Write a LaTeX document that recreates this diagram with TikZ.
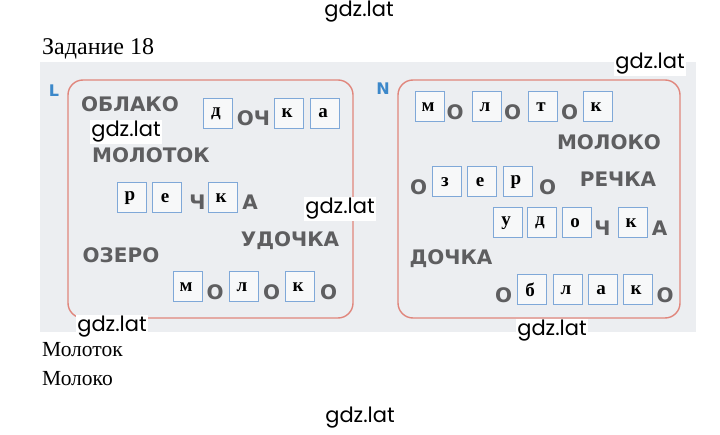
\documentclass[tikz,border=0pt]{standalone}
\usepackage{fontspec}
\setmainfont{Liberation Serif}
\newfontfamily\wordfont{DejaVu Sans}
\newfontfamily\wmfont{Poppins}
\definecolor{scanbg}{HTML}{ECEEF1}
\definecolor{framered}{HTML}{E0867C}
\definecolor{boxblue}{HTML}{7FA8D8}
\definecolor{wordgray}{HTML}{5E5E60}
\definecolor{tagblue}{HTML}{3C88CA}
\begin{document}
\begin{tikzpicture}[x=1pt,y=-1pt,
  letbox/.style={draw=boxblue,line width=1pt,fill=white!60!scanbg,minimum width=29pt,minimum height=30pt,inner sep=0pt,
    font=\bfseries\fontsize{19}{19}\selectfont},
  word/.style={anchor=base,text=wordgray,inner sep=0pt,font=\wordfont\bfseries\fontsize{20}{20}\selectfont},
  gdz/.style={fill=white,inner sep=1pt,font=\wmfont\fontsize{21}{21}\selectfont},
  frame/.style={draw=framered,line width=1.4pt,rounded corners=15pt}]
  \useasboundingbox (0,0) rectangle (720,435);

  % scanned page
  \fill[scanbg] (40,62) rectangle (696,332);
  \draw[frame] (68,80) rectangle (353,318);
  \draw[frame] (398,80) rectangle (680,318);
  \node[text=tagblue,font=\wordfont\bfseries\fontsize{16}{16}\selectfont] (tagL) at (54,91) {L};
  \node[text=tagblue,font=\wordfont\bfseries\fontsize{16}{16}\selectfont] (tagN) at (383,89) {N};

  % left panel
  \node[word] (oblako) at (130,112) {ОБЛАКО};
  \node[word] (molotok) at (151,163) {МОЛОТОК};
  \node[word] (udochka) at (290,247) {УДОЧКА};
  \node[word] (ozero) at (121,263) {ОЗЕРО};
  \foreach \x/\t in {218/д,289/к,325/а} \node[letbox] (la-\x) at (\x,113.5) {\hspace*{-4pt}\t};
  \node[word] (la-och) at (253.5,126) {ОЧ};
  \foreach \x/\t in {132/р,167/е,223/к} \node[letbox] (lb-\x) at (\x,198) {\hspace*{-4pt}\t};
  \foreach \x/\t in {197.5/Ч,250/А} \node[word] (lb-\x) at (\x,210) {\t};
  \foreach \x/\t in {188/м,244/л,300/к} \node[letbox] (lc-\x) at (\x,287) {\hspace*{-4pt}\t};
  \foreach \x in {215,271.5,328.5} \node[word] (lc-\x) at (\x,300) {О};

  % right panel
  \node[word] (moloko) at (609,150) {МОЛОКО};
  \node[word] (rechka) at (618,187) {РЕЧКА};
  \node[word] (dochka) at (451,265) {ДОЧКА};
  \foreach \x/\t in {430/м,487/л,543/т,598/к} \node[letbox] (ra-\x) at (\x,107) {\hspace*{-4pt}\t};
  \foreach \x in {455,512.5,569.5} \node[word] (ra-\x) at (\x,120) {О};
  \foreach \x/\t in {447/з,482/е,518/р} \node[letbox] (rb-\x) at (\x,182) {\hspace*{-4pt}\t};
  \foreach \x in {418.5,547.5} \node[word] (rb-\x) at (\x,195) {О};
  \foreach \x/\t in {508/у,542/д,577/о,633/к} \node[letbox] (rc-\x) at (\x,223) {\hspace*{-4pt}\t};
  \foreach \x/\t in {602.5/Ч,659.5/А} \node[word] (rc-\x) at (\x,236) {\t};
  \foreach \x/\t in {532/б,568/л,603/а,638/к} \node[letbox] (rd-\x) at (\x,290) {\hspace*{-4pt}\t};
  \foreach \x in {503.5,665} \node[word] (rd-\x) at (\x,303) {О};

  % text around
  \node[anchor=base west,inner sep=0pt,font=\fontsize{24}{24}\selectfont] (title) at (42,55) {Задание 18};
  \node[anchor=base west,inner sep=0pt,font=\fontsize{21.5}{22}\selectfont] (ans1) at (42,357) {Молоток};
  \node[anchor=base west,inner sep=0pt,font=\fontsize{21.5}{22}\selectfont] (ans2) at (42,385) {Молоко};

  % watermarks
  \foreach \x/\y [count=\i] in {359/12,126/132,340/209,112/327,650/64,552/331,360/418}
    \node[gdz] (gdz\i) at (\x,\y) {gdz.lat};
\end{tikzpicture}
\end{document}
